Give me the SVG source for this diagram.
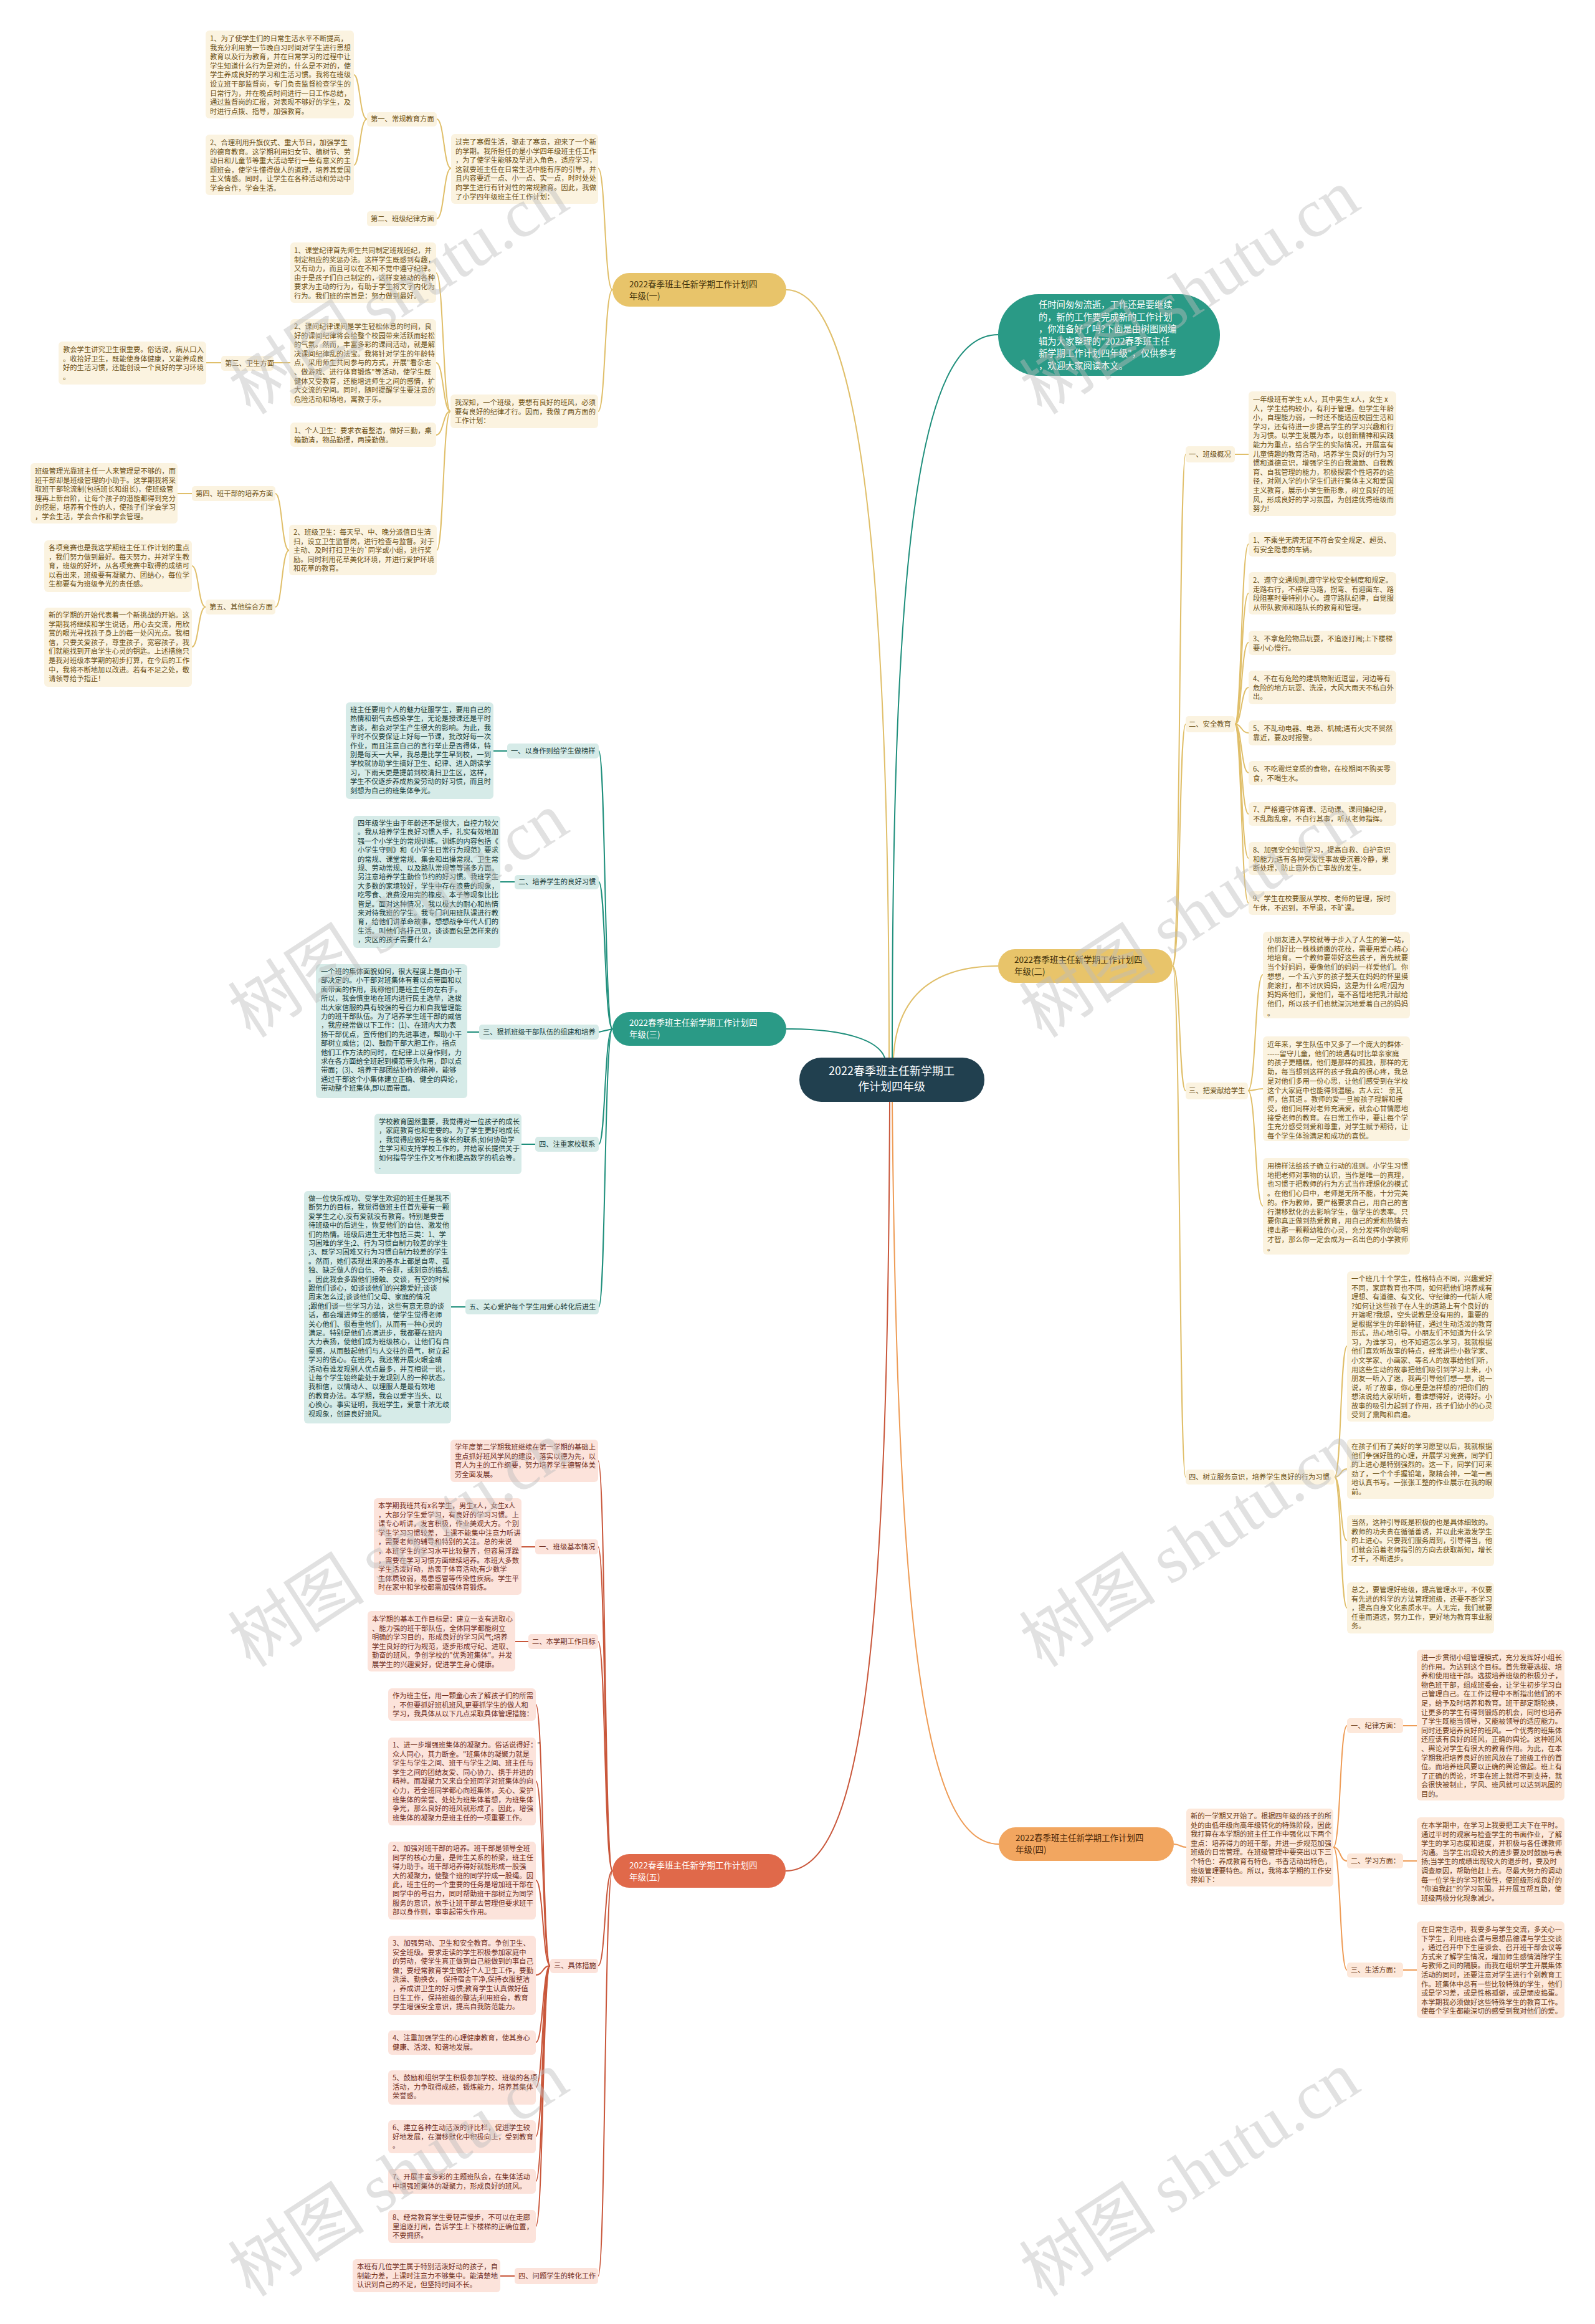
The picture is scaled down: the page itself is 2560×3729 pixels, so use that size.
<svg xmlns="http://www.w3.org/2000/svg" width="2560" height="3729" viewBox="0 0 2560 3729">
<style>
text{font-family:"Noto Sans CJK SC","Noto Sans",sans-serif;}
.t{font-size:11.3px;}
.n1{font-size:13.5px;}
.gb{fill:#fbf3e0;} .gt{fill:#6b5014;}
.tb{fill:#d6ebe8;} .tt{fill:#173a37;}
.rb{fill:#fce3db;} .rt{fill:#702e1d;}
.ob{fill:#fde8da;} .ot{fill:#6b3a15;}
.cg{fill:none;stroke:#e0bf6a;stroke-width:2;}
.ct{fill:none;stroke:#1f8f7c;stroke-width:2;}
.cr{fill:none;stroke:#c9573b;stroke-width:2;}
.co{fill:none;stroke:#ee9c56;stroke-width:2;}
.wm{font-size:110px;fill:#bdbdbd;opacity:0.45;}
.wm2{font-family:"Liberation Serif",serif;}
</style>
<rect width="2560" height="3729" fill="#ffffff"/>

<g id="connectors">
<!-- center -->
<path class="cg" d="M1262,465 C1380,465 1427,900 1427,1697"/>
<path class="ct" d="M1432,1697 C1432,900 1470,537 1602,537"/>
<path class="cg" d="M1434,1697 C1440,1580 1520,1550 1602,1550"/>
<path class="ct" d="M1262,1651 C1360,1651 1410,1670 1420,1697"/>
<path class="co" d="M1432,1768 C1440,2600 1480,2959 1603,2959"/>
<path class="cr" d="M1428,1768 C1425,2600 1390,3002 1261,3002"/>
<!-- (一) -->
<path class="cg" d="M983,465 C970,465 972,270 960,270"/>
<path class="cg" d="M983,465 C970,465 972,660 960,660"/>
<path class="cg" d="M724,270 C712,270 713,191 701,191"/>
<path class="cg" d="M724,270 C712,270 713,351 701,351"/>
<path class="cg" d="M589,191 C577,191 578,120 568,120"/>
<path class="cg" d="M589,191 C577,191 578,265 568,265"/>
<path class="cg" d="M723,660 C711,660 712,438 700,438"/>
<path class="cg" d="M723,660 C711,660 712,582 700,582"/>
<path class="cg" d="M723,660 C711,660 712,698 700,698"/>
<path class="cg" d="M723,660 C711,660 712,883 701,883"/>
<path class="cg" d="M466,582 L439,582"/>
<path class="cg" d="M355,582 L331,582"/>
<path class="cg" d="M464,883 C452,883 453,792 442,792"/>
<path class="cg" d="M464,883 C452,883 453,974 442,974"/>
<path class="cg" d="M308,792 L285,792"/>
<path class="cg" d="M330,974 C318,974 319,908 308,908"/>
<path class="cg" d="M330,974 C318,974 319,1038 308,1038"/>
<!-- (三) -->
<path class="ct" d="M983,1651 C970,1651 972,1205 961,1205"/>
<path class="ct" d="M983,1651 C970,1651 972,1415 961,1415"/>
<path class="ct" d="M983,1651 L961,1656"/>
<path class="ct" d="M983,1651 C970,1651 972,1836 961,1836"/>
<path class="ct" d="M983,1651 C970,1651 972,2097 961,2097"/>
<path class="ct" d="M814,1205 L792,1205"/>
<path class="ct" d="M826,1415 L803,1415"/>
<path class="ct" d="M769,1656 L750,1656"/>
<path class="ct" d="M859,1836 L837,1836"/>
<path class="ct" d="M747,2097 L724,2097"/>
<!-- (五) -->
<path class="cr" d="M983,3002 C970,3002 972,2344 960,2344"/>
<path class="cr" d="M983,3002 C970,3002 972,2482 960,2482"/>
<path class="cr" d="M983,3002 C970,3002 972,2634 960,2634"/>
<path class="cr" d="M983,3002 C970,3002 972,3154 960,3154"/>
<path class="cr" d="M983,3002 C970,3002 972,3652 960,3652"/>
<path class="cr" d="M859,2482 L837,2482"/>
<path class="cr" d="M848,2634 L827,2634"/>
<path class="cr" d="M826,3652 L803,3652"/>
<path class="cr" d="M883,3154 C871,3154 872,2735 860,2735"/>
<path class="cr" d="M883,3154 C871,3154 872,2858 860,2858"/>
<path class="cr" d="M883,3154 C871,3154 872,3017 860,3017"/>
<path class="cr" d="M883,3154 C871,3154 872,3169 860,3169"/>
<path class="cr" d="M883,3154 C871,3154 872,3277 860,3277"/>
<path class="cr" d="M883,3154 C871,3154 872,3349 860,3349"/>
<path class="cr" d="M883,3154 C871,3154 872,3428 860,3428"/>
<path class="cr" d="M883,3154 C871,3154 872,3500 860,3500"/>
<path class="cr" d="M883,3154 C871,3154 872,3572 860,3572"/>
<!-- (二) -->
<path class="cg" d="M1882,1550 C1895,1550 1892,729 1903,729"/>
<path class="cg" d="M1882,1550 C1895,1550 1892,1162 1903,1162"/>
<path class="cg" d="M1882,1550 C1895,1550 1892,1750 1903,1750"/>
<path class="cg" d="M1882,1550 C1895,1550 1892,2370 1903,2370"/>
<path class="cg" d="M1982,729 L2004,729"/>
<path class="cg" d="M1982,1162 C1993,1162 1992,873 2004,873"/>
<path class="cg" d="M1982,1162 C1993,1162 1992,952 2004,952"/>
<path class="cg" d="M1982,1162 C1993,1162 1992,1031 2004,1031"/>
<path class="cg" d="M1982,1162 C1993,1162 1992,1103 2004,1103"/>
<path class="cg" d="M1982,1162 C1993,1162 1992,1176 2004,1176"/>
<path class="cg" d="M1982,1162 C1993,1162 1992,1240 2004,1240"/>
<path class="cg" d="M1982,1162 C1993,1162 1992,1306 2004,1306"/>
<path class="cg" d="M1982,1162 C1993,1162 1992,1377 2004,1377"/>
<path class="cg" d="M1982,1162 C1993,1162 1992,1449 2004,1449"/>
<path class="cg" d="M2003,1750 C2016,1750 2014,1564 2027,1564"/>
<path class="cg" d="M2003,1750 C2016,1750 2014,1747 2027,1747"/>
<path class="cg" d="M2003,1750 C2016,1750 2014,1935 2027,1935"/>
<path class="cg" d="M2142,2370 C2153,2370 2151,2160 2162,2160"/>
<path class="cg" d="M2142,2370 C2153,2370 2151,2357 2162,2357"/>
<path class="cg" d="M2142,2370 C2153,2370 2151,2472 2162,2472"/>
<path class="cg" d="M2142,2370 C2153,2370 2151,2580 2162,2580"/>
<!-- (四) -->
<path class="co" d="M1884,2959 C1894,2959 1894,2964 1904,2964"/>
<path class="co" d="M2140,2964 C2152,2964 2150,2769 2162,2769"/>
<path class="co" d="M2140,2964 C2152,2964 2150,2986 2162,2986"/>
<path class="co" d="M2140,2964 C2152,2964 2150,3161 2162,3161"/>
<path class="co" d="M2252,2769 L2274,2769"/>
<path class="co" d="M2252,2986 L2274,2986"/>
<path class="co" d="M2252,3161 L2274,3161"/>
</g>

<g id="center">
<rect x="1283" y="1697" width="297" height="71" rx="35" fill="#21404f"/>
<text x="1431" y="1725" font-size="18" fill="#ffffff" text-anchor="middle"><tspan x="1431">2022春季班主任新学期工</tspan><tspan x="1431" dy="25">作计划四年级</tspan></text>
</g>

<g id="intro">
<rect x="1602" y="472" width="356" height="131" rx="65" fill="#2a9a86"/>
<text x="1667" y="494" font-size="14.3" fill="#ffffff"><tspan x="1667">任时间匆匆流逝，工作还是要继续</tspan><tspan x="1667" dy="19.6">的，新的工作要完成新的工作计划</tspan><tspan x="1667" dy="19.6">，你准备好了吗?下面是由树图网编</tspan><tspan x="1667" dy="19.6">辑为大家整理的"2022春季班主任</tspan><tspan x="1667" dy="19.6">新学期工作计划四年级"，仅供参考</tspan><tspan x="1667" dy="19.6">，欢迎大家阅读本文。</tspan></text>
</g>

<!-- ===== (一) ===== -->
<g id="b1">
<rect x="983" y="438" width="279" height="54" rx="27" fill="#e8c46a"/>
<text class="n1" x="1010" y="461" fill="#3f300a"><tspan x="1010">2022春季班主任新学期工作计划四</tspan><tspan x="1010" dy="19">年级(一)</tspan></text>
</g>
<g id="b1-intro">
<rect class="gb" x="724" y="215" width="236" height="112" rx="6"/>
<text class="t gt" x="731" y="232"><tspan x="731">过完了寒假生活，驱走了寒意，迎来了一个新</tspan><tspan x="731" dy="14.6">的学期。我所担任的是小学四年级班主任工作</tspan><tspan x="731" dy="14.6">，为了使学生能够及早进入角色，适应学习，</tspan><tspan x="731" dy="14.6">这就要班主任在日常生活中能有序的引导，并</tspan><tspan x="731" dy="14.6">且内容要近一点、小一点、实一点，时时处处</tspan><tspan x="731" dy="14.6">向学生进行有针对性的常规教育。因此，我做</tspan><tspan x="731" dy="14.6">了小学四年级班主任工作计划：</tspan></text>
</g>
<g id="b1-l1">
<rect class="gb" x="589" y="180" width="112" height="23" rx="5"/>
<text class="t gt" x="595" y="195">第一、常规教育方面</text>
</g>
<g id="b1-l2">
<rect class="gb" x="589" y="339" width="112" height="24" rx="5"/>
<text class="t gt" x="595" y="355">第二、班级纪律方面</text>
</g>
<g id="b1-p1">
<rect class="gb" x="330" y="49" width="238" height="141" rx="6"/>
<text class="t gt" x="337" y="66"><tspan x="337">1、为了使学生们的日常生活水平不断提高，</tspan><tspan x="337" dy="14.6">我充分利用第一节晚自习时间对学生进行思想</tspan><tspan x="337" dy="14.6">教育以及行为教育，并在日常学习的过程中让</tspan><tspan x="337" dy="14.6">学生知道什么行为是对的，什么是不对的，使</tspan><tspan x="337" dy="14.6">学生养成良好的学习和生活习惯。我将在班级</tspan><tspan x="337" dy="14.6">设立班干部监督岗，专门负责监督检查学生的</tspan><tspan x="337" dy="14.6">日常行为，并在晚点时间进行一日工作总结，</tspan><tspan x="337" dy="14.6">通过监督岗的汇报，对表现不够好的学生，及</tspan><tspan x="337" dy="14.6">时进行点拨、指导，加强教育。</tspan></text>
</g>
<g id="b1-p2">
<rect class="gb" x="330" y="216" width="238" height="97" rx="6"/>
<text class="t gt" x="337" y="233"><tspan x="337">2、合理利用升旗仪式、重大节日，加强学生</tspan><tspan x="337" dy="14.6">的德育教育。这学期利用妇女节、植树节、劳</tspan><tspan x="337" dy="14.6">动日和儿童节等重大活动举行一些有意义的主</tspan><tspan x="337" dy="14.6">题班会，使学生懂得做人的道理，培养其爱国</tspan><tspan x="337" dy="14.6">主义情感。同时，让学生在各种活动和劳动中</tspan><tspan x="337" dy="14.6">学会合作，学会生活。</tspan></text>
</g>
<g id="b1-shenzhi">
<rect class="gb" x="723" y="633" width="237" height="54" rx="6"/>
<text class="t gt" x="730" y="650"><tspan x="730">我深知，一个班级，要想有良好的班风，必须</tspan><tspan x="730" dy="14.6">要有良好的纪律才行。因而，我做了两方面的</tspan><tspan x="730" dy="14.6">工作计划：</tspan></text>
</g>
<g id="b1-ketang">
<rect class="gb" x="466" y="389" width="234" height="97" rx="6"/>
<text class="t gt" x="472" y="406"><tspan x="472">1、课堂纪律首先师生共同制定班规班纪，并</tspan><tspan x="472" dy="14.6">制定相应的奖惩办法。这样学生既感到有趣，</tspan><tspan x="472" dy="14.6">又有动力，而且可以在不知不觉中遵守纪律。</tspan><tspan x="472" dy="14.6">由于是孩子们自己制定的，这样变被动的各种</tspan><tspan x="472" dy="14.6">要求为主动的行为，有助于学生将文字内化为</tspan><tspan x="472" dy="14.6">行为。我们班的宗旨是：努力做到最好。</tspan></text>
</g>
<g id="b1-kejian">
<rect class="gb" x="466" y="512" width="234" height="140" rx="6"/>
<text class="t gt" x="472" y="528"><tspan x="472">2、课间纪律课间是学生轻松休息的时间，良</tspan><tspan x="472" dy="14.6">好的课间纪律将会给整个校园带来活跃而轻松</tspan><tspan x="472" dy="14.6">的气氛。然而，丰富多彩的课间活动，就是解</tspan><tspan x="472" dy="14.6">决课间纪律乱的法宝。我将针对学生的年龄特</tspan><tspan x="472" dy="14.6">点，采用师生共同参与的方式，开展"看杂志</tspan><tspan x="472" dy="14.6">、做游戏、进行体育锻炼"等活动，使学生既</tspan><tspan x="472" dy="14.6">健体又受教育，还能增进师生之间的感情，扩</tspan><tspan x="472" dy="14.6">大交流的空间。同时，随时提醒学生要注意的</tspan><tspan x="472" dy="14.6">危险活动和场地，寓教于乐。</tspan></text>
</g>
<g id="b1-geren">
<rect class="gb" x="466" y="678" width="234" height="39" rx="6"/>
<text class="t gt" x="472" y="695"><tspan x="472">1、个人卫生：要求衣着整洁，做好三勤，桌</tspan><tspan x="472" dy="14.6">箱勤清，物品勤摆，两操勤做。</tspan></text>
</g>
<g id="b1-banji">
<rect class="gb" x="464" y="842" width="237" height="81" rx="6"/>
<text class="t gt" x="471" y="858"><tspan x="471">2、班级卫生：每天早、中、晚分派值日生清</tspan><tspan x="471" dy="14.6">扫，设立卫生监督岗，进行检查与监督。对于</tspan><tspan x="471" dy="14.6">主动、及时打扫卫生的`同学或小组，进行奖</tspan><tspan x="471" dy="14.6">励。同时利用花草美化环境，并进行爱护环境</tspan><tspan x="471" dy="14.6">和花草的教育。</tspan></text>
</g>
<g id="b1-l3">
<rect class="gb" x="355" y="571" width="84" height="24" rx="5"/>
<text class="t gt" x="361" y="587">第三、卫生方面</text>
</g>
<g id="b1-weisheng">
<rect class="gb" x="94" y="548" width="237" height="69" rx="6"/>
<text class="t gt" x="101" y="565"><tspan x="101">教会学生讲究卫生很重要。俗话说，病从口入</tspan><tspan x="101" dy="14.6">。收拾好卫生，既能使身体健康，又能养成良</tspan><tspan x="101" dy="14.6">好的生活习惯，还能创设一个良好的学习环境</tspan><tspan x="101" dy="14.6">。</tspan></text>
</g>
<g id="b1-l4">
<rect class="gb" x="308" y="780" width="134" height="24" rx="5"/>
<text class="t gt" x="314" y="796">第四、班干部的培养方面</text>
</g>
<g id="b1-ganbu">
<rect class="gb" x="49" y="743" width="236" height="97" rx="6"/>
<text class="t gt" x="56" y="760"><tspan x="56">班级管理光靠班主任一人来管理是不够的，而</tspan><tspan x="56" dy="14.6">班干部却是班级管理的小助手。这学期我将采</tspan><tspan x="56" dy="14.6">取班干部轮流制(包括班长和组长)，使班级管</tspan><tspan x="56" dy="14.6">理再上新台阶，让每个孩子的潜能都得到充分</tspan><tspan x="56" dy="14.6">的挖掘，培养有个性的人，使孩子们学会学习</tspan><tspan x="56" dy="14.6">，学会生活，学会合作和学会管理。</tspan></text>
</g>
<g id="b1-l5">
<rect class="gb" x="330" y="962" width="112" height="24" rx="5"/>
<text class="t gt" x="336" y="978">第五、其他综合方面</text>
</g>
<g id="b1-jingsai">
<rect class="gb" x="71" y="867" width="237" height="83" rx="6"/>
<text class="t gt" x="78" y="883"><tspan x="78">各项竞赛也是我这学期班主任工作计划的重点</tspan><tspan x="78" dy="14.6">，我们努力做到最好。每天努力，并对学生教</tspan><tspan x="78" dy="14.6">育，班级的好坏，从各项竞赛中取得的成绩可</tspan><tspan x="78" dy="14.6">以看出来，班级要有凝聚力、团结心，每位学</tspan><tspan x="78" dy="14.6">生都要有为班级争光的责任感。</tspan></text>
</g>
<g id="b1-xinde">
<rect class="gb" x="71" y="975" width="237" height="127" rx="6"/>
<text class="t gt" x="78" y="991"><tspan x="78">新的学期的开始代表着一个新挑战的开始。这</tspan><tspan x="78" dy="14.6">学期我将继续和学生说话，用心去交流，用欣</tspan><tspan x="78" dy="14.6">赏的眼光寻找孩子身上的每一处闪光点。我相</tspan><tspan x="78" dy="14.6">信，只要关爱孩子，尊重孩子，宽容孩子，我</tspan><tspan x="78" dy="14.6">们就能找到开启学生心灵的钥匙。上述措施只</tspan><tspan x="78" dy="14.6">是我对班级本学期的初步打算，在今后的工作</tspan><tspan x="78" dy="14.6">中，我将不断地加以改进。若有不足之处，敬</tspan><tspan x="78" dy="14.6">请领导给予指正！</tspan></text>
</g>

<!-- ===== (三) ===== -->
<g id="b3">
<rect x="983" y="1624" width="279" height="54" rx="27" fill="#2a9a86"/>
<text class="n1" x="1010" y="1646" fill="#ffffff"><tspan x="1010">2022春季班主任新学期工作计划四</tspan><tspan x="1010" dy="19">年级(三)</tspan></text>
</g>
<g id="b3-l1">
<rect class="tb" x="814" y="1193" width="147" height="24" rx="5"/>
<text class="t tt" x="820" y="1209">一、以身作则给学生做榜样</text>
</g>
<g id="b3-p1">
<rect class="tb" x="555" y="1127" width="237" height="155" rx="6"/>
<text class="t tt" x="562" y="1143"><tspan x="562">班主任要用个人的魅力征服学生，要用自己的</tspan><tspan x="562" dy="14.4">热情和朝气去感染学生，无论是授课还是平时</tspan><tspan x="562" dy="14.4">言谈，都会对学生产生很大的影响。为此，我</tspan><tspan x="562" dy="14.4">平时不仅要保证上好每一节课，批改好每一次</tspan><tspan x="562" dy="14.4">作业，而且注意自己的言行举止是否得体，特</tspan><tspan x="562" dy="14.4">别是每天一大早，我总是比学生早到校，一到</tspan><tspan x="562" dy="14.4">学校就协助学生搞好卫生、纪律、进入朗读学</tspan><tspan x="562" dy="14.4">习，下雨天更是提前到校清扫卫生区，这样，</tspan><tspan x="562" dy="14.4">学生不仅逐步养成热爱劳动的好习惯，而且时</tspan><tspan x="562" dy="14.4">刻想为自己的班集体争光。</tspan></text>
</g>
<g id="b3-l2">
<rect class="tb" x="826" y="1404" width="135" height="23" rx="5"/>
<text class="t tt" x="832" y="1419">二、培养学生的良好习惯</text>
</g>
<g id="b3-p2">
<rect class="tb" x="567" y="1309" width="236" height="212" rx="6"/>
<text class="t tt" x="574" y="1325"><tspan x="574">四年级学生由于年龄还不是很大，自控力较欠</tspan><tspan x="574" dy="14.4">。我从培养学生良好习惯入手，扎实有效地加</tspan><tspan x="574" dy="14.4">强一个小学生的常规训练。训练的内容包括《</tspan><tspan x="574" dy="14.4">小学生守则》和《小学生日常行为规范》要求</tspan><tspan x="574" dy="14.4">的常规、课堂常规、集会和出操常规、卫生常</tspan><tspan x="574" dy="14.4">规、劳动常规、以及路队常规等等诸多方面。</tspan><tspan x="574" dy="14.4">另注意培养学生勤俭节约的好习惯。我班学生</tspan><tspan x="574" dy="14.4">大多数的家境较好，学生中存在浪费的现象，</tspan><tspan x="574" dy="14.4">吃零食、浪费没用完的橡皮、本子等现象比比</tspan><tspan x="574" dy="14.4">皆是。面对这种情况，我以极大的耐心和热情</tspan><tspan x="574" dy="14.4">来对待我班的学生。我专门利用班队课进行教</tspan><tspan x="574" dy="14.4">育，给他们讲革命故事，想想战争年代人们的</tspan><tspan x="574" dy="14.4">生活。叫他们各抒己见，谈谈面包是怎样来的</tspan><tspan x="574" dy="14.4">，灾区的孩子需要什么？</tspan></text>
</g>
<g id="b3-l3">
<rect class="tb" x="769" y="1644" width="192" height="24" rx="5"/>
<text class="t tt" x="775" y="1660">三、狠抓班级干部队伍的组建和培养</text>
</g>
<g id="b3-p3">
<rect class="tb" x="507" y="1547" width="243" height="215" rx="6"/>
<text class="t tt" x="515" y="1563"><tspan x="515">一个班的集体面貌如何，很大程度上是由小干</tspan><tspan x="515" dy="14.4">部决定的。小干部对班集体有着以点带面和以</tspan><tspan x="515" dy="14.4">面带面的作用，我称他们是班主任的左右手。</tspan><tspan x="515" dy="14.4">所以，我会慎重地在班内进行民主选举，选拔</tspan><tspan x="515" dy="14.4">出大家信服的具有较强的号召力和自我管理能</tspan><tspan x="515" dy="14.4">力的班干部队伍。为了培养学生班干部的威信</tspan><tspan x="515" dy="14.4">，我应经常做以下工作：(1)、在班内大力表</tspan><tspan x="515" dy="14.4">扬干部优点，宣传他们的先进事迹，帮助小干</tspan><tspan x="515" dy="14.4">部树立威信；(2)、鼓励干部大胆工作，指点</tspan><tspan x="515" dy="14.4">他们工作方法的同时，在纪律上以身作则，力</tspan><tspan x="515" dy="14.4">求在各方面给全班起到模范带头作用，即以点</tspan><tspan x="515" dy="14.4">带面；(3)、培养干部团结协作的精神，能够</tspan><tspan x="515" dy="14.4">通过干部这个小集体建立正确、健全的舆论，</tspan><tspan x="515" dy="14.4">带动整个班集体,即以面带面。</tspan></text>
</g>
<g id="b3-l4">
<rect class="tb" x="859" y="1824" width="102" height="24" rx="5"/>
<text class="t tt" x="865" y="1840">四、注重家校联系</text>
</g>
<g id="b3-p4">
<rect class="tb" x="601" y="1787" width="236" height="97" rx="6"/>
<text class="t tt" x="608" y="1804"><tspan x="608">学校教育固然重要，我觉得对一位孩子的成长</tspan><tspan x="608" dy="14.4">，家庭教育也和重要的。为了学生更好地成长</tspan><tspan x="608" dy="14.4">，我觉得应做好与各家长的联系;如何协助学</tspan><tspan x="608" dy="14.4">生学习和支持学校工作的，并给家长提供关于</tspan><tspan x="608" dy="14.4">如何指导学生作文写作和提高数学的机会等。</tspan><tspan x="608" dy="14.4">.</tspan></text>
</g>
<g id="b3-l5">
<rect class="tb" x="747" y="2085" width="214" height="24" rx="5"/>
<text class="t tt" x="753" y="2101">五、关心爱护每个学生用爱心转化后进生</text>
</g>
<g id="b3-p5">
<rect class="tb" x="488" y="1911" width="236" height="373" rx="6"/>
<text class="t tt" x="495" y="1927"><tspan x="495">做一位快乐成功、受学生欢迎的班主任是我不</tspan><tspan x="495" dy="14.4">断努力的目标，我觉得做班主任首先要有一颗</tspan><tspan x="495" dy="14.4">爱学生之心,没有爱就没有教育。特别是要善</tspan><tspan x="495" dy="14.4">待班级中的后进生，恢复他们的自信、激发他</tspan><tspan x="495" dy="14.4">们的热情。班级后进生无非包括三类：1、学</tspan><tspan x="495" dy="14.4">习困难的学生;2、行为习惯自制力较差的学生</tspan><tspan x="495" dy="14.4">;3、既学习困难又行为习惯自制力较差的学生</tspan><tspan x="495" dy="14.4">。然而，她们表现出来的基本上都是自卑、孤</tspan><tspan x="495" dy="14.4">独、缺乏做人的自信、不合群，或刻意的捣乱</tspan><tspan x="495" dy="14.4">。因此我会多跟他们接触、交谈，有空的时候</tspan><tspan x="495" dy="14.4">跟他们谈心，如谈谈他们的兴趣爱好;谈谈</tspan><tspan x="495" dy="14.4">周末怎么过;谈谈他们父母、家庭的情况</tspan><tspan x="495" dy="14.4">;跟他们谈一些学习方法，这些有意无意的谈</tspan><tspan x="495" dy="14.4">话，都会增进师生的感情，使学生觉得老师</tspan><tspan x="495" dy="14.4">关心他们、很看重他们，从而有一种心灵的</tspan><tspan x="495" dy="14.4">满足。特别是他们点滴进步，我都要在班内</tspan><tspan x="495" dy="14.4">大力表扬，使他们成为班级核心，让他们有自</tspan><tspan x="495" dy="14.4">豪感，从而鼓起他们与人交往的勇气，树立起</tspan><tspan x="495" dy="14.4">学习的信心。在班内，我还常开展火眼金睛</tspan><tspan x="495" dy="14.4">活动看谁发现别人优点最多，并互相说一说，</tspan><tspan x="495" dy="14.4">让每个学生始终能处于发现别人的一种状态。</tspan><tspan x="495" dy="14.4">我相信，以情动人、以理服人是最有效地</tspan><tspan x="495" dy="14.4">的教育办法。本学期，我会以爱字当头、以</tspan><tspan x="495" dy="14.4">心换心。事实证明，我班学生，爱意十浓无歧</tspan><tspan x="495" dy="14.4">视现象，创建良好班风。</tspan></text>
</g>

<!-- ===== (五) ===== -->
<g id="b5">
<rect x="983" y="2975" width="278" height="54" rx="27" fill="#e0694a"/>
<text class="n1" x="1010" y="2998" fill="#ffffff"><tspan x="1010">2022春季班主任新学期工作计划四</tspan><tspan x="1010" dy="19">年级(五)</tspan></text>
</g>
<g id="b5-intro">
<rect class="rb" x="723" y="2310" width="237" height="68" rx="6"/>
<text class="t rt" x="730" y="2326"><tspan x="730">学年度第二学期我班继续在第一学期的基础上</tspan><tspan x="730" dy="14.6">重点抓好班风学风的建设，落实以德为先，以</tspan><tspan x="730" dy="14.6">育人为主的工作纲要，努力培养学生德智体美</tspan><tspan x="730" dy="14.6">劳全面发展。</tspan></text>
</g>
<g id="b5-l1">
<rect class="rb" x="859" y="2470" width="101" height="24" rx="5"/>
<text class="t rt" x="865" y="2486">一、班级基本情况</text>
</g>
<g id="b5-p1">
<rect class="rb" x="600" y="2404" width="237" height="155" rx="6"/>
<text class="t rt" x="607" y="2420"><tspan x="607">本学期我班共有x名学生，男生x人，女生x人</tspan><tspan x="607" dy="14.6">，大部分学生爱学习，有良好的学习习惯。上</tspan><tspan x="607" dy="14.6">课专心听讲，发言积极，作业美观大方。个别</tspan><tspan x="607" dy="14.6">学生学习习惯较差， 上课不能集中注意力听讲</tspan><tspan x="607" dy="14.6">，需要老师的辅导和特别的关注。总的来说</tspan><tspan x="607" dy="14.6">，本班学生的学习水平比较整齐，但容易浮躁</tspan><tspan x="607" dy="14.6">，需要在学习习惯方面继续培养。本班大多数</tspan><tspan x="607" dy="14.6">学生活泼好动，热衷于体育活动;有少数学</tspan><tspan x="607" dy="14.6">生体质较弱，易患感冒等传染性疾病。学生平</tspan><tspan x="607" dy="14.6">时在家中和学校都需加强体育锻炼。</tspan></text>
</g>
<g id="b5-l2">
<rect class="rb" x="848" y="2622" width="112" height="24" rx="5"/>
<text class="t rt" x="854" y="2638">二、本学期工作目标</text>
</g>
<g id="b5-p2">
<rect class="rb" x="590" y="2585" width="237" height="97" rx="6"/>
<text class="t rt" x="597" y="2602"><tspan x="597">本学期的基本工作目标是：建立一支有进取心</tspan><tspan x="597" dy="14.6">、能力强的班干部队伍，全体同学都能树立</tspan><tspan x="597" dy="14.6">明确的学习目的，形成良好的学习风气;培养</tspan><tspan x="597" dy="14.6">学生良好的行为规范，逐步形成守纪、进取、</tspan><tspan x="597" dy="14.6">勤奋的班风，争创学校的"优秀班集体"。并发</tspan><tspan x="597" dy="14.6">展学生的兴趣爱好，促进学生身心健康。</tspan></text>
</g>
<g id="b5-l3">
<rect class="rb" x="883" y="3143" width="77" height="23" rx="5"/>
<text class="t rt" x="889" y="3158">三、具体措施</text>
</g>
<g id="b5-a">
<rect class="rb" x="623" y="2709" width="237" height="52" rx="6"/>
<text class="t rt" x="630" y="2725"><tspan x="630">作为班主任，用一颗童心去了解孩子们的所需</tspan><tspan x="630" dy="14.6">，不但要抓好班机班风,更要抓学生的做人和</tspan><tspan x="630" dy="14.6">学习，我具体从以下几点采取具体管理措施：</tspan></text>
</g>
<g id="b5-b">
<rect class="rb" x="623" y="2788" width="237" height="141" rx="6"/>
<text class="t rt" x="630" y="2804"><tspan x="630">1、进一步增强班集体的凝聚力。俗话说得好："</tspan><tspan x="630" dy="14.6">众人同心，其力断金。"班集体的凝聚力就是</tspan><tspan x="630" dy="14.6">学生与学生之间、班干与学生之间、班主任与</tspan><tspan x="630" dy="14.6">学生之间的团结友爱、同心协力、携手并进的</tspan><tspan x="630" dy="14.6">精神。而凝聚力又来自全班同学对班集体的向</tspan><tspan x="630" dy="14.6">心力，若全班同学都心向班集体，关心、爱护</tspan><tspan x="630" dy="14.6">班集体的荣誉、处处为班集体着想，为班集体</tspan><tspan x="630" dy="14.6">争光，那么良好的班风就形成了。因此，增强</tspan><tspan x="630" dy="14.6">班集体的凝聚力是班主任的一项重要工作。</tspan></text>
</g>
<g id="b5-c">
<rect class="rb" x="623" y="2955" width="237" height="125" rx="6"/>
<text class="t rt" x="630" y="2970"><tspan x="630">2、加强对班干部的培养。班干部是领导全班</tspan><tspan x="630" dy="14.6">同学的核心力量，是师生关系的桥梁，班主任</tspan><tspan x="630" dy="14.6">得力助手。班干部培养得好就能形成一股强</tspan><tspan x="630" dy="14.6">大的凝聚力，使整个班的同学拧成一股绳。因</tspan><tspan x="630" dy="14.6">此，班主任的一个重要的任务是增加班干部在</tspan><tspan x="630" dy="14.6">同学中的号召力，同时帮助班干部树立为同学</tspan><tspan x="630" dy="14.6">服务的意识，放手让班干部去管理但要求班干</tspan><tspan x="630" dy="14.6">部以身作则，事事起带头作用。</tspan></text>
</g>
<g id="b5-d">
<rect class="rb" x="623" y="3106" width="237" height="127" rx="6"/>
<text class="t rt" x="630" y="3122"><tspan x="630">3、加强劳动、卫生和安全教育。争创卫生、</tspan><tspan x="630" dy="14.6">安全班级。要求走读的学生积极参加家庭中</tspan><tspan x="630" dy="14.6">的劳动，使学生真正做到自己能做到的事自己</tspan><tspan x="630" dy="14.6">做；要经常教育学生做好个人卫生工作，要勤</tspan><tspan x="630" dy="14.6">洗澡、勤换衣， 保持宿舍干净,保持衣服整洁</tspan><tspan x="630" dy="14.6">，养成讲卫生的好习惯;教育学生认真做好值</tspan><tspan x="630" dy="14.6">日生工作，保持班级的整洁;利用班会，教育</tspan><tspan x="630" dy="14.6">学生增强安全意识，提高自我防范能力。</tspan></text>
</g>
<g id="b5-e">
<rect class="rb" x="623" y="3258" width="237" height="39" rx="6"/>
<text class="t rt" x="630" y="3274"><tspan x="630">4、注重加强学生的心理健康教育，使其身心</tspan><tspan x="630" dy="14.6">健康、活泼、和谐地发展。</tspan></text>
</g>
<g id="b5-f">
<rect class="rb" x="623" y="3322" width="237" height="55" rx="6"/>
<text class="t rt" x="630" y="3338"><tspan x="630">5、鼓励和组织学生积极参加学校、班级的各项</tspan><tspan x="630" dy="14.6">活动，力争取得成绩，锻炼能力，培养其集体</tspan><tspan x="630" dy="14.6">荣誉感。</tspan></text>
</g>
<g id="b5-g">
<rect class="rb" x="623" y="3402" width="237" height="53" rx="6"/>
<text class="t rt" x="630" y="3418"><tspan x="630">6、建立各种生动活泼的评比栏，促进学生较</tspan><tspan x="630" dy="14.6">好地发展，在潜移默化中积极向上，受到教育</tspan><tspan x="630" dy="14.6">。</tspan></text>
</g>
<g id="b5-h">
<rect class="rb" x="623" y="3480" width="237" height="40" rx="6"/>
<text class="t rt" x="630" y="3497"><tspan x="630">7、开展丰富多彩的主题班队会，在集体活动</tspan><tspan x="630" dy="14.6">中增强班集体的凝聚力，形成良好的班风。</tspan></text>
</g>
<g id="b5-i">
<rect class="rb" x="623" y="3546" width="237" height="53" rx="6"/>
<text class="t rt" x="630" y="3562"><tspan x="630">8、经常教育学生要轻声慢步，不可以在走廊</tspan><tspan x="630" dy="14.6">里追逐打闹，告诉学生上下楼梯的正确位置，</tspan><tspan x="630" dy="14.6">不要拥挤。</tspan></text>
</g>
<g id="b5-l4">
<rect class="rb" x="826" y="3639" width="134" height="26" rx="5"/>
<text class="t rt" x="832" y="3656">四、问题学生的转化工作</text>
</g>
<g id="b5-p4">
<rect class="rb" x="566" y="3625" width="237" height="53" rx="6"/>
<text class="t rt" x="573" y="3641"><tspan x="573">本班有几位学生属于特别活泼好动的孩子，自</tspan><tspan x="573" dy="14.6">制能力差，上课时注意力不够集中。能清楚地</tspan><tspan x="573" dy="14.6">认识到自己的不足，但坚持时间不长。</tspan></text>
</g>

<!-- ===== (二) ===== -->
<g id="b2">
<rect x="1602" y="1523" width="280" height="54" rx="27" fill="#e8c46a"/>
<text class="n1" x="1628" y="1545" fill="#3f300a"><tspan x="1628">2022春季班主任新学期工作计划四</tspan><tspan x="1628" dy="19">年级(二)</tspan></text>
</g>
<g id="b2-l1">
<rect class="gb" x="1903" y="716" width="79" height="26" rx="5"/>
<text class="t gt" x="1908" y="733">一、班级概况</text>
</g>
<g id="b2-p1">
<rect class="gb" x="2004" y="628" width="237" height="200" rx="6"/>
<text class="t gt" x="2011" y="645"><tspan x="2011">一年级班有学生 x人，其中男生 x人，女生 x</tspan><tspan x="2011" dy="14.6">人，学生结构较小，有利于管理。但学生年龄</tspan><tspan x="2011" dy="14.6">小，自理能力弱，一时还不能适应校园生活和</tspan><tspan x="2011" dy="14.6">学习，还有待进一步提高学生的学习兴趣和行</tspan><tspan x="2011" dy="14.6">为习惯。以学生发展为本，以创新精神和实践</tspan><tspan x="2011" dy="14.6">能力为重点，结合学生的实际情况，开展富有</tspan><tspan x="2011" dy="14.6">儿童情趣的教育活动，培养学生良好的行为习</tspan><tspan x="2011" dy="14.6">惯和道德意识，增强学生的自我激励、自我教</tspan><tspan x="2011" dy="14.6">育、自我管理的能力，积极探索个性培养的途</tspan><tspan x="2011" dy="14.6">径，对刚入学的小学生们进行集体主义和爱国</tspan><tspan x="2011" dy="14.6">主义教育，展示小学生新形象，树立良好的班</tspan><tspan x="2011" dy="14.6">风，形成良好的学习氛围，为创建优秀班级而</tspan><tspan x="2011" dy="14.6">努力!</tspan></text>
</g>
<g id="b2-l2">
<rect class="gb" x="1903" y="1149" width="79" height="26" rx="5"/>
<text class="t gt" x="1908" y="1166">二、安全教育</text>
</g>
<g id="b2-s1">
<rect class="gb" x="2004" y="854" width="237" height="39" rx="6"/>
<text class="t gt" x="2011" y="871"><tspan x="2011">1、不乘坐无牌无证不符合安全规定、超员、</tspan><tspan x="2011" dy="14.6">有安全隐患的车辆。</tspan></text>
</g>
<g id="b2-s2">
<rect class="gb" x="2004" y="918" width="237" height="68" rx="6"/>
<text class="t gt" x="2011" y="935"><tspan x="2011">2、遵守交通规则,遵守学校安全制度和规定。</tspan><tspan x="2011" dy="14.6">走路右行，不横穿马路，拐弯、有迎面车、路</tspan><tspan x="2011" dy="14.6">段阻塞时要特别小心。遵守路队纪律，自觉服</tspan><tspan x="2011" dy="14.6">从带队教师和路队长的教育和管理。</tspan></text>
</g>
<g id="b2-s3">
<rect class="gb" x="2004" y="1012" width="237" height="39" rx="6"/>
<text class="t gt" x="2011" y="1029"><tspan x="2011">3、不拿危险物品玩耍，不追逐打闹;上下楼梯</tspan><tspan x="2011" dy="14.6">要小心慢行。</tspan></text>
</g>
<g id="b2-s4">
<rect class="gb" x="2004" y="1076" width="237" height="54" rx="6"/>
<text class="t gt" x="2011" y="1093"><tspan x="2011">4、不在有危险的建筑物附近逗留，河边等有</tspan><tspan x="2011" dy="14.6">危险的地方玩耍、洗澡，大风大雨天不私自外</tspan><tspan x="2011" dy="14.6">出。</tspan></text>
</g>
<g id="b2-s5">
<rect class="gb" x="2004" y="1156" width="237" height="40" rx="6"/>
<text class="t gt" x="2011" y="1173"><tspan x="2011">5、不乱动电器、电源、机械;遇有火灾不贸然</tspan><tspan x="2011" dy="14.6">靠近，要及时报警。</tspan></text>
</g>
<g id="b2-s6">
<rect class="gb" x="2004" y="1221" width="237" height="39" rx="6"/>
<text class="t gt" x="2011" y="1238"><tspan x="2011">6、不吃霉烂变质的食物，在校期间不购买零</tspan><tspan x="2011" dy="14.6">食，不喝生水。</tspan></text>
</g>
<g id="b2-s7">
<rect class="gb" x="2004" y="1287" width="237" height="38" rx="6"/>
<text class="t gt" x="2011" y="1303"><tspan x="2011">7、严格遵守体育课、活动课、课间操纪律，</tspan><tspan x="2011" dy="14.6">不乱跑乱窜，不自行其事，听从老师指挥。</tspan></text>
</g>
<g id="b2-s8">
<rect class="gb" x="2004" y="1351" width="237" height="53" rx="6"/>
<text class="t gt" x="2011" y="1368"><tspan x="2011">8、加强安全知识学习，提高自救、自护意识</tspan><tspan x="2011" dy="14.6">和能力;遇有各种突发性事故要沉着冷静，果</tspan><tspan x="2011" dy="14.6">断处理，防止意外伤亡事故的发生。</tspan></text>
</g>
<g id="b2-s9">
<rect class="gb" x="2004" y="1430" width="237" height="38" rx="6"/>
<text class="t gt" x="2011" y="1446"><tspan x="2011">9、学生在校要服从学校、老师的管理，按时</tspan><tspan x="2011" dy="14.6">午休，不迟到，不早退，不旷课。</tspan></text>
</g>
<g id="b2-l3">
<rect class="gb" x="1903" y="1737" width="100" height="27" rx="5"/>
<text class="t gt" x="1908" y="1754">三、把爱献给学生</text>
</g>
<g id="b2-a1">
<rect class="gb" x="2027" y="1495" width="236" height="139" rx="6"/>
<text class="t gt" x="2034" y="1512"><tspan x="2034">小朋友进入学校就等于步入了人生的第一站，</tspan><tspan x="2034" dy="14.7">他们好比一株株娇嫩的花枝，需要用爱心精心</tspan><tspan x="2034" dy="14.7">地培育。一个教师要带好这些孩子，首先就要</tspan><tspan x="2034" dy="14.7">当个好妈妈，要像他们的妈妈一样爱他们。你</tspan><tspan x="2034" dy="14.7">想想，一个五六岁的孩子整天在妈妈的怀里摸</tspan><tspan x="2034" dy="14.7">爬滚打，都不讨厌妈妈，这是为什么呢?因为</tspan><tspan x="2034" dy="14.7">妈妈疼他们，爱他们，毫不吝惜地把乳汁献给</tspan><tspan x="2034" dy="14.7">他们，所以孩子们也就深沉地爱着自己的妈妈</tspan><tspan x="2034" dy="14.7">。</tspan></text>
</g>
<g id="b2-a2">
<rect class="gb" x="2027" y="1663" width="236" height="168" rx="6"/>
<text class="t gt" x="2034" y="1680"><tspan x="2034">近年来，学生队伍中又多了一个庞大的群体-</tspan><tspan x="2034" dy="14.7">-----留守儿童，他们的境遇有时比单亲家庭</tspan><tspan x="2034" dy="14.7">的孩子更糟糕，他们是那样的孤独，那样的无</tspan><tspan x="2034" dy="14.7">助，每当想到这样的孩子我真的很心疼，我总</tspan><tspan x="2034" dy="14.7">是对他们多用一份心思，让他们感受到在学校</tspan><tspan x="2034" dy="14.7">这个大家庭中也能得到温暖。古人云： 亲其</tspan><tspan x="2034" dy="14.7">师，信其道 。教师的爱一旦被孩子理解和接</tspan><tspan x="2034" dy="14.7">受，他们同样对老师充满爱，就会心甘情愿地</tspan><tspan x="2034" dy="14.7">接受老师的教育。在日常工作中，要让每个学</tspan><tspan x="2034" dy="14.7">生充分感受到爱和尊重，对学生赋予期待，让</tspan><tspan x="2034" dy="14.7">每个学生体验满足和成功的喜悦。</tspan></text>
</g>
<g id="b2-a3">
<rect class="gb" x="2027" y="1858" width="236" height="155" rx="6"/>
<text class="t gt" x="2034" y="1875"><tspan x="2034">用榜样法给孩子确立行动的准则。小学生习惯</tspan><tspan x="2034" dy="14.7">地把老师对事物的认识，当作是唯一的真理，</tspan><tspan x="2034" dy="14.7">也习惯于把教师的行为方式当作理想化的模式</tspan><tspan x="2034" dy="14.7">。在他们心目中，老师是无所不能，十分完美</tspan><tspan x="2034" dy="14.7">的。作为教师，要严格要求自己，用自己的言</tspan><tspan x="2034" dy="14.7">行潜移默化的去影响学生，做学生的表率。只</tspan><tspan x="2034" dy="14.7">要你真正做到热爱教育，用自己的爱和热情去</tspan><tspan x="2034" dy="14.7">撞击那一颗颗幼稚的心灵，充分发挥你的聪明</tspan><tspan x="2034" dy="14.7">才智，那么你一定会成为一名出色的小学教师</tspan><tspan x="2034" dy="14.7">。</tspan></text>
</g>
<g id="b2-l4">
<rect class="gb" x="1903" y="2358" width="239" height="24" rx="5"/>
<text class="t gt" x="1908" y="2374">四、树立服务意识，培养学生良好的行为习惯</text>
</g>
<g id="b2-f1">
<rect class="gb" x="2162" y="2040" width="236" height="241" rx="6"/>
<text class="t gt" x="2169" y="2056"><tspan x="2169">一个班几十个学生，性格特点不同，兴趣爱好</tspan><tspan x="2169" dy="14.55">不同，家庭教育也不同，如何把他们培养成有</tspan><tspan x="2169" dy="14.55">理想、有道德、有文化、守纪律的一代新人呢</tspan><tspan x="2169" dy="14.55">?如何让这些孩子在人生的道路上有个良好的</tspan><tspan x="2169" dy="14.55">开端呢?我想，空头说教是没有用的，重要的</tspan><tspan x="2169" dy="14.55">是根据学生的年龄特征，通过生动活泼的教育</tspan><tspan x="2169" dy="14.55">形式，热心地引导。小朋友们不知道为什么学</tspan><tspan x="2169" dy="14.55">习，为谁学习，也不知道怎么学习，我就根据</tspan><tspan x="2169" dy="14.55">他们喜欢听故事的特点，经常讲些小数学家、</tspan><tspan x="2169" dy="14.55">小文学家、小画家、等名人的故事给他们听，</tspan><tspan x="2169" dy="14.55">用这些生动的故事把他们吸引到学习上来，小</tspan><tspan x="2169" dy="14.55">朋友一听入了迷，我再引导他们想一想，说一</tspan><tspan x="2169" dy="14.55">说，听了故事，你心里是怎样想的?把你们的</tspan><tspan x="2169" dy="14.55">想法说给大家听听，看谁想得好，说得好。小</tspan><tspan x="2169" dy="14.55">故事的吸引力起到了作用，孩子们幼小的心灵</tspan><tspan x="2169" dy="14.55">受到了熏陶和启迪。</tspan></text>
</g>
<g id="b2-f2">
<rect class="gb" x="2162" y="2309" width="236" height="96" rx="6"/>
<text class="t gt" x="2169" y="2325"><tspan x="2169">在孩子们有了美好的学习愿望以后，我就根据</tspan><tspan x="2169" dy="14.55">他们争强好胜的心理，开展学习竞赛，同学们</tspan><tspan x="2169" dy="14.55">的上进心是特别强烈的。这一下，同学们可来</tspan><tspan x="2169" dy="14.55">劲了，一个个手握铅笔，聚精会神，一笔一画</tspan><tspan x="2169" dy="14.55">地认真书写。一张张工整的作业展示在我的眼</tspan><tspan x="2169" dy="14.55">前。</tspan></text>
</g>
<g id="b2-f3">
<rect class="gb" x="2162" y="2431" width="236" height="82" rx="6"/>
<text class="t gt" x="2169" y="2447"><tspan x="2169">当然，这种引导既是积极的也是具体细致的。</tspan><tspan x="2169" dy="14.55">教师的功夫贵在循循善诱，并以此来激发学生</tspan><tspan x="2169" dy="14.55">的上进心。只要我们服务周到，引导得当，他</tspan><tspan x="2169" dy="14.55">们就会沿着老师指引的方向去获取新知，增长</tspan><tspan x="2169" dy="14.55">才干，不断进步。</tspan></text>
</g>
<g id="b2-f4">
<rect class="gb" x="2162" y="2539" width="236" height="82" rx="6"/>
<text class="t gt" x="2169" y="2555"><tspan x="2169">总之，要管理好班级，提高管理水平，不仅要</tspan><tspan x="2169" dy="14.55">有先进的科学的方法管理班级，还要不断学习</tspan><tspan x="2169" dy="14.55">，提高自身文化素质水平。人无完，我们就要</tspan><tspan x="2169" dy="14.55">任重而道远，努力工作，更好地为教育事业服</tspan><tspan x="2169" dy="14.55">务。</tspan></text>
</g>

<!-- ===== (四) ===== -->
<g id="b4">
<rect x="1603" y="2932" width="281" height="54" rx="27" fill="#f2a660"/>
<text class="n1" x="1630" y="2954" fill="#4a2608"><tspan x="1630">2022春季班主任新学期工作计划四</tspan><tspan x="1630" dy="19">年级(四)</tspan></text>
</g>
<g id="b4-intro">
<rect class="ob" x="1904" y="2902" width="236" height="125" rx="6"/>
<text class="t ot" x="1911" y="2918"><tspan x="1911">新的一学期又开始了。根据四年级的孩子的所</tspan><tspan x="1911" dy="14.6">处的由低年级向高年级转化的特殊阶段，因此</tspan><tspan x="1911" dy="14.6">我打算在本学期的班主任工作中强化以下两个</tspan><tspan x="1911" dy="14.6">重点：培养得力的班干部，并进一步规范加强</tspan><tspan x="1911" dy="14.6">班级的日常管理。在班级管理中要突出以下三</tspan><tspan x="1911" dy="14.6">个特色：养成教育有特色，书香活动出特色，</tspan><tspan x="1911" dy="14.6">班级管理要特色。所以，我将本学期的工作安</tspan><tspan x="1911" dy="14.6">排如下：</tspan></text>
</g>
<g id="b4-l1">
<rect class="ob" x="2162" y="2757" width="90" height="24" rx="5"/>
<text class="t ot" x="2168" y="2773">一、纪律方面：</text>
</g>
<g id="b4-l2">
<rect class="ob" x="2162" y="2974" width="90" height="24" rx="5"/>
<text class="t ot" x="2168" y="2990">二、学习方面：</text>
</g>
<g id="b4-l3">
<rect class="ob" x="2162" y="3149" width="90" height="24" rx="5"/>
<text class="t ot" x="2168" y="3165">三、生活方面：</text>
</g>
<g id="b4-p1">
<rect class="ob" x="2274" y="2647" width="237" height="242" rx="6"/>
<text class="t ot" x="2281" y="2664"><tspan x="2281">进一步贯彻小组管理模式，充分发挥好小组长</tspan><tspan x="2281" dy="14.6">的作用。为达到这个目标。首先我要选拔、培</tspan><tspan x="2281" dy="14.6">养和使用班干部。选拔培养班级的积极分子，</tspan><tspan x="2281" dy="14.6">物色班干部，组成班委会，让学生初步学习自</tspan><tspan x="2281" dy="14.6">己管理自己。在工作过程中不断指出他们的不</tspan><tspan x="2281" dy="14.6">足，给予及时培养和教育。班干部定期轮换，</tspan><tspan x="2281" dy="14.6">让更多的学生有得到锻炼的机会，同时也培养</tspan><tspan x="2281" dy="14.6">了学生既能当领导，又能被领导的适应能力。</tspan><tspan x="2281" dy="14.6">同时还要培养良好的班风。一个优秀的班集体</tspan><tspan x="2281" dy="14.6">还应该有良好的班风，正确的舆论。这种班风</tspan><tspan x="2281" dy="14.6">、舆论对学生有很大的教育作用。为此，在本</tspan><tspan x="2281" dy="14.6">学期我把培养良好的班风放在了班级工作的首</tspan><tspan x="2281" dy="14.6">位。而培养班风要以正确的舆论做起。班上有</tspan><tspan x="2281" dy="14.6">了正确的舆论，坏事在班上就得不到支持，就</tspan><tspan x="2281" dy="14.6">会很快被制止，学风、班风就可以达到巩固的</tspan><tspan x="2281" dy="14.6">目的。</tspan></text>
</g>
<g id="b4-p2">
<rect class="ob" x="2274" y="2916" width="237" height="141" rx="6"/>
<text class="t ot" x="2281" y="2933"><tspan x="2281">在本学期中，在学习上我要把工夫下在平时。</tspan><tspan x="2281" dy="14.6">通过平时的观察与检查学生的书面作业，了解</tspan><tspan x="2281" dy="14.6">学生的学习态度和进度，并积极与各任课教师</tspan><tspan x="2281" dy="14.6">沟通。当学生出现较大的进步要及时鼓励与表</tspan><tspan x="2281" dy="14.6">扬;当学生的成绩出现较大的退步时，要及时</tspan><tspan x="2281" dy="14.6">调查原因，帮助他赶上去。尽最大努力的调动</tspan><tspan x="2281" dy="14.6">每一位学生的学习积极性，使班级形成良好的</tspan><tspan x="2281" dy="14.6">"你追我赶"的学习氛围。并开展互帮互助，使</tspan><tspan x="2281" dy="14.6">班级两极分化现象减少。</tspan></text>
</g>
<g id="b4-p3">
<rect class="ob" x="2274" y="3083" width="237" height="155" rx="6"/>
<text class="t ot" x="2281" y="3100"><tspan x="2281">在日常生活中，我要多与学生交流，多关心一</tspan><tspan x="2281" dy="14.6">下学生，利用班会课与思想品德课与学生交谈</tspan><tspan x="2281" dy="14.6">，通过召开中下生座谈会、召开班干部会议等</tspan><tspan x="2281" dy="14.6">方式来了解学生情况，增加师生感情消除学生</tspan><tspan x="2281" dy="14.6">与教师之间的隔膜。而我在组织学生开展集体</tspan><tspan x="2281" dy="14.6">活动的同时，还要注意对学生进行个别教育工</tspan><tspan x="2281" dy="14.6">作。班集体中总有一些比较特殊的学生，他们</tspan><tspan x="2281" dy="14.6">或是学习差，或是性格孤僻，或是顽皮捣蛋。</tspan><tspan x="2281" dy="14.6">本学期我必须做好这些特殊学生的教育工作。</tspan><tspan x="2281" dy="14.6">使每个学生都能深切的感受到我对他们的爱。</tspan></text>
</g>

<g id="watermarks">
<text class="wm" transform="translate(660,500) rotate(-33)" text-anchor="middle">树图 <tspan class="wm2">shutu.cn</tspan></text>
<text class="wm" transform="translate(1930,500) rotate(-33)" text-anchor="middle">树图 <tspan class="wm2">shutu.cn</tspan></text>
<text class="wm" transform="translate(660,1500) rotate(-33)" text-anchor="middle">树图 <tspan class="wm2">shutu.cn</tspan></text>
<text class="wm" transform="translate(1930,1500) rotate(-33)" text-anchor="middle">树图 <tspan class="wm2">shutu.cn</tspan></text>
<text class="wm" transform="translate(660,2510) rotate(-33)" text-anchor="middle">树图 <tspan class="wm2">shutu.cn</tspan></text>
<text class="wm" transform="translate(1930,2510) rotate(-33)" text-anchor="middle">树图 <tspan class="wm2">shutu.cn</tspan></text>
<text class="wm" transform="translate(660,3520) rotate(-33)" text-anchor="middle">树图 <tspan class="wm2">shutu.cn</tspan></text>
<text class="wm" transform="translate(1930,3520) rotate(-33)" text-anchor="middle">树图 <tspan class="wm2">shutu.cn</tspan></text>
</g>
</svg>
